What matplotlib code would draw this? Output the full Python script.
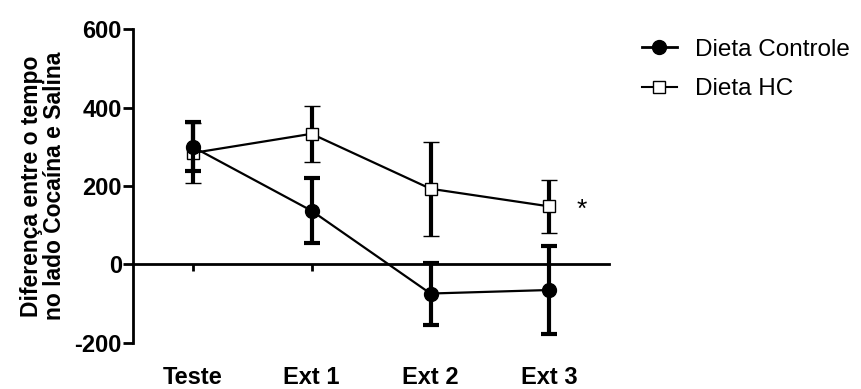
import matplotlib
matplotlib.use('Agg')
import matplotlib.pyplot as plt
from matplotlib.lines import Line2D

plt.rcParams['font.family'] = ['Liberation Sans', 'DejaVu Sans']
plt.rcParams['axes.unicode_minus'] = False

# data
sessions = ['Teste', 'Ext 1', 'Ext 2', 'Ext 3']
controle_mean = [300, 137, -74, -65]
controle_sem = [63, 83, 79, 113]
hc_mean = [284, 333, 193, 148]
hc_sem = [77, 72, 120, 68]

fig = plt.figure(figsize=(8.61, 3.89), dpi=100)
ax = fig.add_axes([0.1545, 0.1183, 0.7073 - 0.1545, 0.9254 - 0.1183])

x = list(range(len(sessions)))

ax.errorbar(x, hc_mean, yerr=hc_sem, color='black', lw=1.6, marker='s', ms=9,
            mfc='white', mec='black', mew=1.0, ecolor='black', elinewidth=3,
            capsize=6, capthick=3, zorder=3)
ax.errorbar(x, controle_mean, yerr=controle_sem, color='black', lw=1.6, marker='o', ms=10,
            mfc='black', mec='black', ecolor='black', elinewidth=3,
            capsize=6, capthick=3, zorder=4)

ax.text(3.27, hc_mean[3] - 8, '*', fontsize=19, ha='center', va='center')

ax.set_xlim(-0.5, 3.5)
ax.set_ylim(-200, 600)
ax.set_yticks([-200, 0, 200, 400, 600])
for lab in ax.get_yticklabels():
    lab.set_fontweight('bold')
ax.tick_params(axis='y', labelsize=17, width=2, length=7, pad=1)

ax.spines['top'].set_visible(False)
ax.spines['right'].set_visible(False)
ax.spines['left'].set_linewidth(2)
ax.spines['bottom'].set_linewidth(2)
ax.spines['bottom'].set_position(('data', 0))

ax.set_xticks(x)
ax.set_xticklabels([])
ax.tick_params(axis='x', width=2, length=5, direction='out')
for i, name in enumerate(sessions):
    ax.annotate(name, xy=(i, -200), xycoords='data', xytext=(0, -16.5), textcoords='offset points',
                ha='center', va='top', fontsize=17, fontweight='bold', annotation_clip=False)

ax.set_ylabel('Diferença entre o tempo\nno lado Cocaína e Salina', fontsize=16.5,
              fontweight='bold', labelpad=6, linespacing=1.0)

handles = [
    Line2D([], [], color='black', lw=2, marker='o', ms=10, mfc='black', mec='black'),
    Line2D([], [], color='black', lw=1.5, marker='s', ms=9, mfc='white', mec='black', mew=1.0),
]
leg = fig.legend(handles, ['Dieta Controle', 'Dieta HC'], loc='upper left',
                 bbox_to_anchor=(0.734, 0.925), frameon=False, fontsize=17.5,
                 handlelength=1.45, handletextpad=0.75, labelspacing=0.72, borderaxespad=0)

fig.savefig('out.png', dpi=100)
